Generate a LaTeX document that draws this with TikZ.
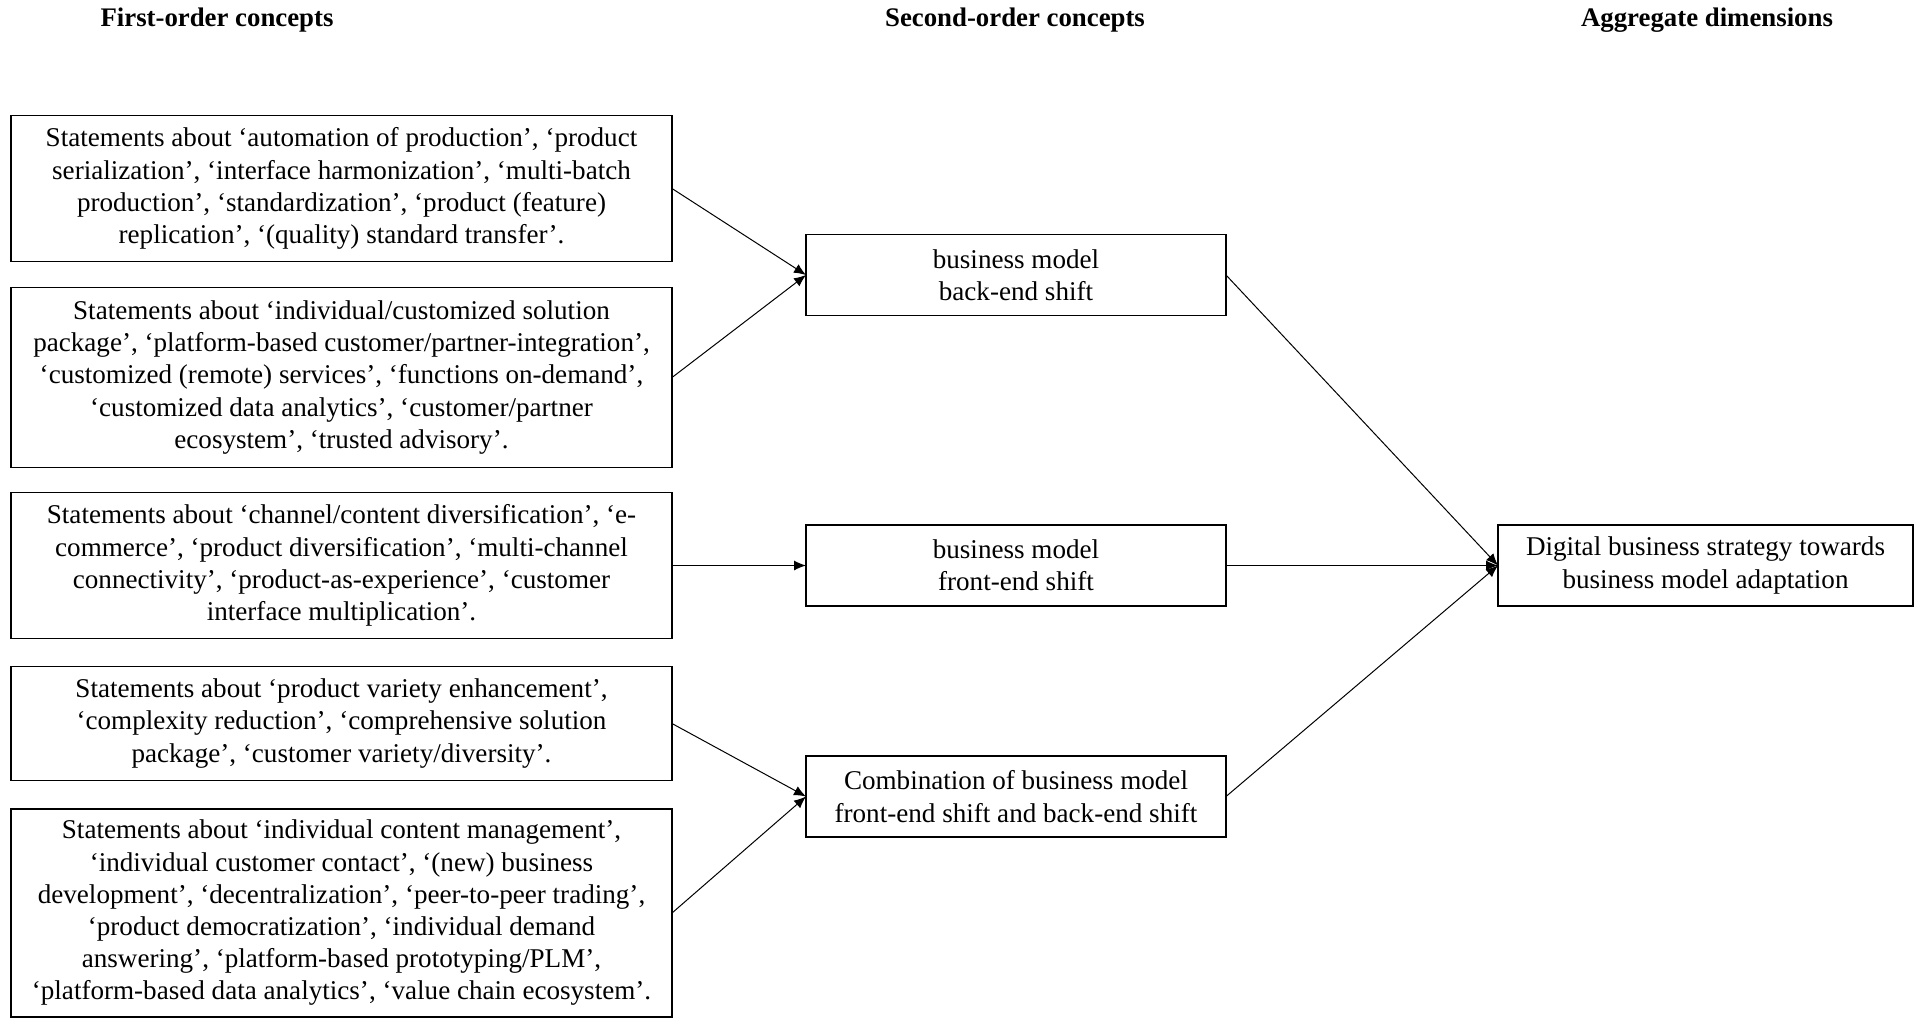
\documentclass[tikz,border=0pt]{standalone}
\usepackage{fontspec}
\setmainfont{Liberation Serif}
\usetikzlibrary{arrows.meta}
\begin{document}
\begin{tikzpicture}[x=0.5pt,y=-0.5pt,
  every node/.style={inner sep=0pt, outer sep=0pt},
  head/.style={font=\fontsize{13.4}{15}\selectfont\bfseries},
  concept/.style={draw, line width=0.9pt, align=center,
    font=\fontsize{13.55}{16.1}\selectfont, minimum width=330.5pt},
  midbox/.style={draw, line width=0.9pt, align=center,
    font=\fontsize{13.55}{16.1}\selectfont, minimum width=210pt, minimum height=40.5pt},
  link/.style={line width=0.5pt, -{Latex[length=6pt,width=5pt]}}]
\useasboundingbox (0,0) rectangle (1916,1018);

% column headings
\node[head] (h1) at (217,20) {First-order concepts};
\node[head] (h2) at (1015,20) {Second-order concepts};
\node[head] (h3) at (1707,20) {Aggregate dimensions};

% first-order concepts
\node[concept, minimum height=73pt] (A) at (341.5,188.5)
  {Statements about ‘automation of production’, ‘product\\
   serialization’, ‘interface harmonization’, ‘multi-batch\\
   production’, ‘standardization’, ‘product (feature)\\
   replication’, ‘(quality) standard transfer’.};
\node[concept, minimum height=90pt] (B) at (341.5,377.5)
  {Statements about ‘individual/customized solution\\
   package’, ‘platform-based customer/partner-integration’,\\
   ‘customized (remote) services’, ‘functions on-demand’,\\
   ‘customized data analytics’, ‘customer/partner\\
   ecosystem’, ‘trusted advisory’.};
\node[concept, minimum height=73pt] (C) at (341.5,565.5)
  {Statements about ‘channel/content diversification’, ‘e-\\
   commerce’, ‘product diversification’, ‘multi-channel\\
   connectivity’, ‘product-as-experience’, ‘customer\\
   interface multiplication’.};
\node[concept, minimum height=57pt] (D) at (341.5,723.5)
  {Statements about ‘product variety enhancement’,\\
   ‘complexity reduction’, ‘comprehensive solution\\
   package’, ‘customer variety/diversity’.};
\node[concept, minimum height=104pt] (E) at (341.5,913)
  {Statements about ‘individual content management’,\\
   ‘individual customer contact’, ‘(new) business\\
   development’, ‘decentralization’, ‘peer-to-peer trading’,\\
   ‘product democratization’, ‘individual demand\\
   answering’, ‘platform-based prototyping/PLM’,\\
   ‘platform-based data analytics’, ‘value chain ecosystem’.};

% second-order concepts
\node[midbox] (M1) at (1016,275) {business model\\back-end shift};
\node[midbox] (M2) at (1016,565.5) {business model\\front-end shift};
\node[midbox] (M3) at (1016,796.5) {Combination of business model\\front-end shift and back-end shift};

% aggregate dimension
\node[midbox, minimum width=207.5pt] (R) at (1705.5,565.5)
  {Digital business strategy towards\\business model adaptation};

% connectors
\draw[link] (A.east) -- (M1.west);
\draw[link] (B.east) -- (M1.west);
\draw[link] (C.east) -- (M2.west);
\draw[link] (D.east) -- (M3.west);
\draw[link] (E.east) -- (M3.west);
\draw[link] (M1.east) -- (R.west);
\draw[link] (M2.east) -- (R.west);
\draw[link] (M3.east) -- (R.west);
\end{tikzpicture}
\end{document}
